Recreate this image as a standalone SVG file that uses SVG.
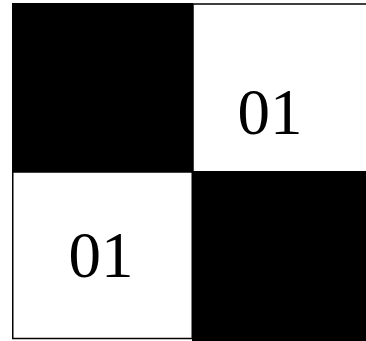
<svg xmlns="http://www.w3.org/2000/svg" width="366" height="341" viewBox="0 0 366 341">
<style>
.blk{fill:#000}
.wht{fill:#fff;stroke:#000;stroke-width:1.5}
.lbl{font-family:"Liberation Serif","Times New Roman",serif;font-size:65px;fill:#000;text-anchor:middle}
</style>
<rect width="366" height="341" fill="#fff"/>
<g id="cell-tr"><rect class="wht" x="193" y="4" width="175" height="168"/><text class="lbl" x="270" y="134">01</text></g>
<g id="cell-bl"><rect class="wht" x="12.75" y="172" width="179.5" height="166.5"/><text class="lbl" x="101" y="277">01</text></g>
<g id="cell-tl"><rect class="blk" x="12" y="3" width="181" height="169"/></g>
<g id="cell-br"><rect class="blk" x="192" y="171" width="174" height="170"/></g>
<g id="connectors"></g>
</svg>
